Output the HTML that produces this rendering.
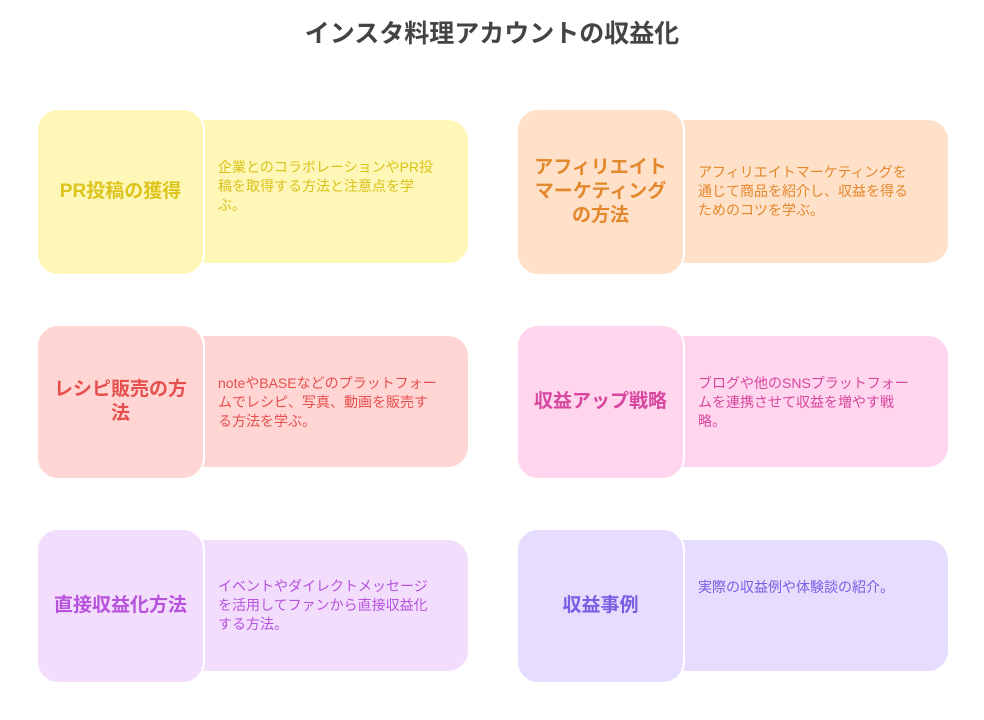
<!DOCTYPE html>
<html><head><meta charset="utf-8"><style>
body{margin:0;width:984px;height:720px;background:#fff;position:relative;overflow:hidden;font-family:"Liberation Sans","Noto Sans CJK JP",sans-serif}
.t{position:absolute;left:0;width:984px;top:14px;text-align:center;font-size:25px;font-weight:bold;color:#444}
.h{position:absolute;width:164px;border:2px solid #fff;border-radius:22px;display:flex;align-items:center;justify-content:center;text-align:center;font-size:19px;font-weight:bold;line-height:24px;z-index:2;box-sizing:border-box}
.d{position:absolute;width:265px;border-radius:0 20px 20px 0;z-index:1}
.x{position:absolute;font-size:14px;line-height:19px;z-index:3;white-space:nowrap}
</style></head><body>
<div class="t">インスタ料理アカウントの収益化</div>

<div class="d" style="left:203px;top:120px;height:143px;background:#fff7b8"></div>
<div class="h" style="left:36px;top:108px;height:168px;background:#fff7b8;color:#dcc41c;width:169px">PR投稿の獲得</div>
<div class="x" style="left:218px;top:158px;color:#d9c21a">企業とのコラボレーションやPR投<br>稿を取得する方法と注意点を学<br>ぶ。</div>

<div class="d" style="left:683px;top:120px;height:143px;background:#ffe1c9"></div>
<div class="h" style="left:516px;top:108px;height:168px;background:#ffe1c9;color:#e3882c;width:169px">アフィリエイト<br>マーケティング<br>の方法</div>
<div class="x" style="left:698px;top:163px;color:#e3882c">アフィリエイトマーケティングを<br>通じて商品を紹介し、収益を得る<br>ためのコツを学ぶ。</div>

<div class="d" style="left:203px;top:336px;height:131px;background:#ffd6d4"></div>
<div class="h" style="left:36px;top:324px;height:156px;background:#ffd6d4;color:#e5504f;width:169px">レシピ販売の方<br>法</div>
<div class="x" style="left:218px;top:374px;color:#e5504f">noteやBASEなどのプラットフォー<br>ムでレシピ、写真、動画を販売す<br>る方法を学ぶ。</div>

<div class="d" style="left:683px;top:336px;height:131px;background:#ffd6ee"></div>
<div class="h" style="left:516px;top:324px;height:156px;background:#ffd6ee;color:#d8479f;width:169px">収益アップ戦略</div>
<div class="x" style="left:698px;top:374px;color:#d8479f">ブログや他のSNSプラットフォー<br>ムを連携させて収益を増やす戦<br>略。</div>

<div class="d" style="left:203px;top:540px;height:131px;background:#f3ddfd"></div>
<div class="h" style="left:36px;top:528px;height:156px;background:#f3ddfd;color:#b652dc;width:169px">直接収益化方法</div>
<div class="x" style="left:218px;top:577px;color:#b652dc">イベントやダイレクトメッセージ<br>を活用してファンから直接収益化<br>する方法。</div>

<div class="d" style="left:683px;top:540px;height:131px;background:#e5dcfe"></div>
<div class="h" style="left:516px;top:528px;height:156px;background:#e5dcfe;color:#7a5ee4;width:169px">収益事例</div>
<div class="x" style="left:698px;top:578px;color:#7a5ee4">実際の収益例や体験談の紹介。</div>
</body></html>
